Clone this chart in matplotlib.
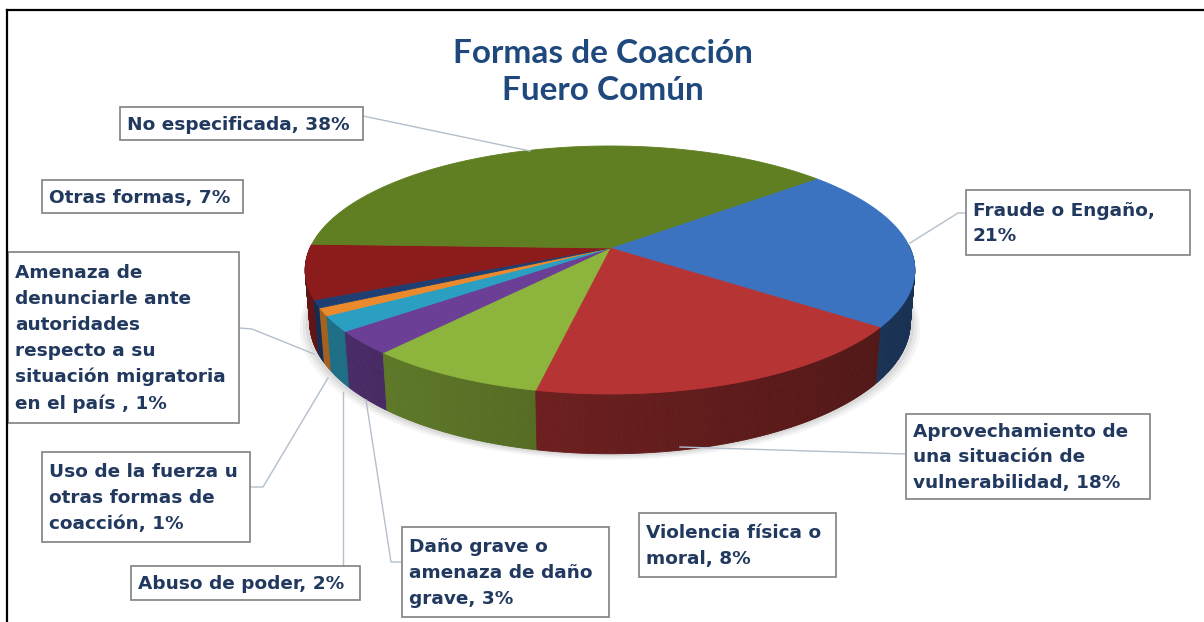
import numpy as np
import matplotlib
matplotlib.use("Agg")
import matplotlib.pyplot as plt
from matplotlib.patches import Polygon, Rectangle
from matplotlib.collections import PolyCollection
from matplotlib.colors import to_rgb

# ---------------- data ----------------
title = "Formas de Coacción\nFuero Común"
categories = [
    "Fraude o Engaño",
    "Aprovechamiento de una situación de vulnerabilidad",
    "Violencia física o moral",
    "Daño grave o amenaza de daño grave",
    "Abuso de poder",
    "Uso de la fuerza u otras formas de coacción",
    "Amenaza de denunciarle ante autoridades respecto a su situación migratoria en el país",
    "Otras formas",
    "No especificada",
]
values = [21, 18, 8, 3, 2, 1, 1, 7, 38]
# wrapped label text (before the percentage)
label_names = [
    "Fraude o Engaño,\n",
    "Aprovechamiento de\nuna situación de\nvulnerabilidad, ",
    "Violencia física o\nmoral, ",
    "Daño grave o\namenaza de daño\ngrave, ",
    "Abuso de poder, ",
    "Uso de la fuerza u\notras formas de\ncoacción, ",
    "Amenaza de\ndenunciarle ante\nautoridades\nrespecto a su\nsituación migratoria\nen el país , ",
    "Otras formas, ",
    "No especificada, ",
]
top_colors = ["#3b73c0", "#b63434", "#8db43c", "#6a3f95", "#2a9fc2",
              "#ea8a2c", "#1f3f73", "#8c1c1c", "#5f7f22"]

# ---------------- layout (pixel space) ----------------
W, H_PX = 1204, 622
fig = plt.figure(figsize=(W / 100, H_PX / 100), dpi=100)
ax = fig.add_axes([0, 0, 1, 1])
ax.set_xlim(0, W)
ax.set_ylim(H_PX, 0)
ax.axis("off")

# 3D perspective pie parameters
CX, CY = 610, 248
K = 1551.0
D = 5.17
phi = np.radians(23.6)
cph, sph = np.cos(phi), np.sin(phi)
DEPTH = 0.19
theta0 = 40.0


def proj(theta, z=0.0):
    x = np.cos(theta)
    y = np.sin(theta)
    dep = D + y * cph - z * sph
    X = x / dep
    Y = (y * sph + z * cph) / dep
    return CX + K * X, CY - K * Y


total = float(sum(values))
cum = np.concatenate([[0], np.cumsum(values)])
starts = np.radians(theta0 - 360 * cum[:-1] / total)
ends = np.radians(theta0 - 360 * cum[1:] / total)

# soft shadow under the pie
for k, a in zip([10, 7, 4], [0.04, 0.05, 0.06]):
    tt = np.linspace(0, 2 * np.pi, 200)
    px, py = proj(tt, -DEPTH)
    ax.add_patch(Polygon(np.c_[CX + (px - CX) * (1 + k / 300.0), py + k * 0.6],
                         closed=True, facecolor="#000000", alpha=a,
                         edgecolor="none", zorder=1))

# side walls
quads, cols, keys = [], [], []
for i in range(len(values)):
    n = max(4, int(abs(ends[i] - starts[i]) / np.radians(0.5)))
    tt = np.linspace(starts[i], ends[i], n + 1)
    base = np.array(to_rgb(top_colors[i]))
    for t1, t2 in zip(tt[:-1], tt[1:]):
        tm = 0.5 * (t1 + t2)
        if np.sin(tm) > 0.02:
            continue
        x1, y1 = proj(t1, 0)
        x2, y2 = proj(t2, 0)
        x3, y3 = proj(t2, -DEPTH)
        x4, y4 = proj(t1, -DEPTH)
        quads.append([(x1, y1), (x2, y2), (x3, y3), (x4, y4)])
        f = 0.57 - 0.15 * np.cos(tm)
        cols.append(np.clip(base * f, 0, 1))
        keys.append(np.sin(tm))
order = np.argsort(-np.array(keys))
quads = [quads[j] for j in order]
cols = [cols[j] for j in order]
ax.add_collection(PolyCollection(quads, facecolors=cols, edgecolors=cols,
                                 linewidths=0.6, zorder=2))

# top faces
for i in range(len(values)):
    n = max(6, int(abs(ends[i] - starts[i]) / np.radians(0.5)))
    tt = np.linspace(starts[i], ends[i], n + 1)
    px, py = proj(tt, 0)
    pts = np.vstack([[CX, CY], np.c_[px, py]])
    ax.add_patch(Polygon(pts, closed=True, facecolor=top_colors[i],
                         edgecolor=top_colors[i], linewidth=0.6, zorder=3))

# title
ax.text(603, 72, title, ha="center", va="center", fontsize=24,
        fontweight="bold", family="Lato", color="#1f497d",
        linespacing=1.3, zorder=5)

# label boxes
boxes = [
    (966, 190, 1190, 255),   # Fraude
    (906, 414, 1150, 499),   # Aprovechamiento
    (639, 513, 836, 577),    # Violencia
    (402, 527, 609, 617),    # Daño
    (131, 566, 360, 600),    # Abuso
    (42, 452, 250, 542),     # Uso
    (8, 252, 239, 423),      # Amenaza
    (42, 180, 243, 213),     # Otras
    (120, 107, 363, 140),    # No especificada
]
leaders = [
    [(910, 243), (958, 213), (966, 213)],
    [(680, 447), (906, 454)],
    None,
    [(402, 562), (391, 562), (366, 400)],
    [(343, 566), (343, 392)],
    [(250, 487), (263, 487), (328, 378)],
    [(239, 328), (252, 329), (314, 354)],
    None,
    [(363, 116), (530, 151)],
]
text_color = "#22395f"
for i in range(len(values)):
    x0, y0, x1, y1 = boxes[i]
    ax.add_patch(Rectangle((x0, y0), x1 - x0, y1 - y0, facecolor="white",
                           edgecolor="#808080", linewidth=1.2, zorder=6))
    ax.text(x0 + 7, (y0 + y1) / 2 + 1, f"{label_names[i]}{values[i]}%",
            ha="left", va="center", fontsize=13.3, fontweight="bold",
            family="DejaVu Sans", color=text_color, linespacing=1.55,
            zorder=7)
    if leaders[i] is not None:
        lx, ly = zip(*leaders[i])
        ax.plot(lx, ly, color="#b4bfcc", linewidth=1.0, zorder=4)

# frame lines
ax.plot([7, W], [10, 10], color="black", linewidth=1.6, zorder=8)
ax.plot([7, 7], [10, H_PX], color="black", linewidth=1.6, zorder=8)

fig.savefig("out.png", dpi=100, facecolor="white")
